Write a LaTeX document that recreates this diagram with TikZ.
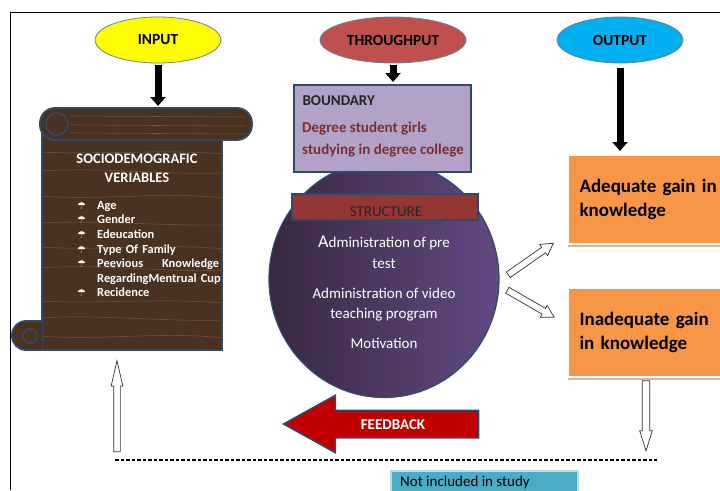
\documentclass[tikz,border=0pt]{standalone}
\usepackage{fontspec}
\setmainfont{Carlito}
\newfontfamily\symfont{DejaVu Sans}
\usetikzlibrary{positioning,arrows.meta,calc,shapes.geometric,shapes.arrows}
\definecolor{navyline}{HTML}{2F4A6A}
\definecolor{inpyellow}{HTML}{FFFF00}
\definecolor{thrured}{HTML}{C0504D}
\definecolor{outblue}{HTML}{00B0F0}
\definecolor{bndfill}{HTML}{B3A2C7}
\definecolor{degreered}{HTML}{7A2F2F}
\definecolor{strucfill}{HTML}{943634}
\definecolor{circleft}{HTML}{38283F}
\definecolor{circright}{HTML}{614A84}
\definecolor{orangebox}{HTML}{F79646}
\definecolor{boxshadow}{HTML}{D9B497}
\definecolor{fbred}{HTML}{C00000}
\definecolor{tealbox}{HTML}{4BACC6}
\definecolor{wood}{HTML}{4A3222}
\definecolor{woodlight}{HTML}{8A6C55}
\tikzset{
  phase/.style={ellipse,draw=navyline!70,line width=0.8pt,minimum width=126pt,minimum height=46pt,
    font=\fontsize{15.5}{17}\selectfont\bfseries},
  blk/.style={line width=7pt,-{Triangle[width=15pt,length=9pt]}},
  hollow/.style={single arrow,draw=black!80,fill=white,line width=0.7pt,inner xsep=0pt,inner ysep=3pt},
  scroll/.style={fill=wood,draw=navyline,line width=1.8pt},
  woodline/.style={woodlight,opacity=0.55,line width=0.6pt},
  result/.style={rectangle,fill=orangebox,draw=white,line width=1pt,minimum width=175pt,minimum height=88pt,
    inner xsep=11pt,text width=160pt,align=left,anchor=north west,font=\fontsize{19}{24}\selectfont\bfseries},
}
\newcommand\sbul{\makebox[20pt][l]{{\symfont\fontsize{10}{10}\selectfont ☂}}}

\begin{document}
\begin{tikzpicture}[x=1pt,y=-1pt]
  \useasboundingbox (0,0) rectangle (720,490);
  \draw[line width=0.8pt] (10,490) -- (10,12) -- (720,12);

  % three phases
  \node[phase,fill=inpyellow] (inp) at (158,40) {INPUT};
  \node[phase,fill=thrured,minimum width=146pt] (thru) at (393,40) {THROUGHPUT};
  \node[phase,fill=outblue] (outp) at (620,40) {OUTPUT};

  % input scroll
  \draw[scroll] (42,130) -- (42,350) -- (222,350) -- (222,130) -- cycle;
  \begin{scope}
    \clip (42,130) rectangle (222,350);
    \foreach \yy/\dd in {152/3,171/-4,196/5,223/-3,247/4,268/-5,301/3,318/-4,336/5}
      \draw[woodline] (40,\yy) .. controls (100,\yy+\dd) and (160,\yy-\dd) .. (225,\yy+2);
  \end{scope}
  \draw[scroll,rounded corners=14] (42,321) -- (12,321) -- (12,350) -- (42,350);
  \draw[navyline,line width=1.5pt] (30,336) circle[radius=7];
  \draw[scroll,rounded corners=15] (40,108) rectangle (252,140);
  \foreach \yy in {116,125,133}
    \draw[woodline] (70,\yy) -- (246,\yy+1);
  \draw[navyline,line width=1.5pt] (57,124) circle[radius=11];
  \coordinate (scrolltop) at (158,106);

  \node[text=white,align=center,font=\fontsize{14.5}{19}\selectfont\bfseries] (vars) at (137,168)
    {SOCIODEMOGRAFIC\\VERIABLES};
  \node[text=white,anchor=north west,text width=150pt,align=left,inner sep=0pt,
        font=\fontsize{12.4}{14.6}\selectfont\bfseries] (items) at (77,201)
    {\sbul Age\\\sbul Gender\\\sbul Edeucation\\\sbul Type Of Family\\
     \sbul\makebox[122pt][l]{Peevious\hfill Knowledge}\\\hspace*{20pt}RegardingMentrual Cup\\
     \sbul Recidence};

  % throughput
  \node[ellipse,minimum width=230pt,minimum height=237pt,shading=axis,left color=circleft,right color=circright,
        draw=navyline,line width=1.2pt] (circ) at (384,279) {};
  \node[rectangle,fill=bndfill,draw=navyline,line width=1.5pt,minimum width=177pt,minimum height=87pt,
        anchor=north west] (bnd) at (293,84) {};
  \node[anchor=west,font=\fontsize{15}{17}\selectfont\bfseries,text=black!85] (bndtitle) at (299,101) {BOUNDARY};
  \node[anchor=north west,align=left,inner sep=0pt,text=degreered,font=\fontsize{15}{22}\selectfont\bfseries]
    (girls) at (302,122) {Degree student girls\\studying in degree college};
  \node[rectangle,fill=strucfill,draw=navyline,line width=1.5pt,minimum width=186pt,minimum height=26pt]
    (struc) at (385,207) {};
  \node[font=\fontsize{15}{17}\selectfont,text=black!85] (structext) at (386,212) {STRUCTURE};
  \draw[navyline,line width=2pt] (435,225) -- (446,219);
  \node[anchor=north,align=center,inner sep=0pt,text=white,font=\fontsize{15}{20.5}\selectfont] (steps) at (384,236)
    {{\fontsize{18}{18}\selectfont A}dministration of pre\\test\\[9.5pt]
     Administration of video\\teaching program\\[9.5pt]Motivation};

  % output
  \node[result] (adeq) at (568,155) {Adequate gain in\\knowledge};
  \node[result] (inadeq) at (568,288) {Inadequate gain\\in knowledge};
  \draw[boxshadow,line width=2pt] ([yshift=-2pt]adeq.south west) -- ([yshift=-2pt]adeq.south east);
  \draw[boxshadow,line width=2pt] ([yshift=-2pt]inadeq.south west) -- ([yshift=-2pt]inadeq.south east);

  % arrows
  \draw[blk] ([yshift=-2pt]inp.south) -- (scrolltop);
  \draw[blk] ([yshift=-2pt]thru.south) -- ([yshift=2pt]thru.south |- bnd.north);
  \draw[blk] ([yshift=-5pt]outp.south) -- ([yshift=4pt]outp.south |- adeq.north);

  \node[hollow,single arrow head extend=3.5pt,single arrow tip angle=60,minimum height=55pt,
        rotate=35,anchor=tail] (toadeq) at (508,275) {};
  \node[hollow,single arrow head extend=3.5pt,single arrow tip angle=60,minimum height=54pt,
        rotate=-30,anchor=tail] (toinadeq) at (507,290) {};

  \coordinate (dashL) at (115,460);
  \coordinate (dashR) at (657,460);
  \draw[line width=1.6pt,dash pattern=on 3.5pt off 2pt] (dashL) -- (dashR);
  \node[hollow,single arrow head extend=2.5pt,single arrow tip angle=26,minimum height=91pt,
        rotate=90,anchor=tail] (upar) at (117,452) {};
  \node[hollow,inner ysep=3.4pt,single arrow head extend=2.6pt,single arrow tip angle=35,minimum height=70pt,
        rotate=-90,anchor=tip] (dnar) at (646,452) {};

  \node[single arrow,fill=fbred,draw=navyline,line width=1.5pt,inner xsep=0pt,inner ysep=13pt,
        single arrow head extend=15pt,single arrow tip angle=58,minimum height=195pt,
        rotate=180,anchor=tip] (fb) at (282,424) {};
  \node[text=white,font=\fontsize{15}{17}\selectfont\bfseries] (fbtext) at (393,425) {FEEDBACK};

  \node[rectangle,fill=tealbox,draw=tealbox!40,line width=1.5pt,minimum width=187pt,minimum height=40pt,
        anchor=north west] (notinc) at (390,470) {};
  \node[anchor=base west,inner sep=0pt,font=\fontsize{15}{17}\selectfont] (notinctext) at (400,486) {Not included in study};
\end{tikzpicture}
\end{document}
